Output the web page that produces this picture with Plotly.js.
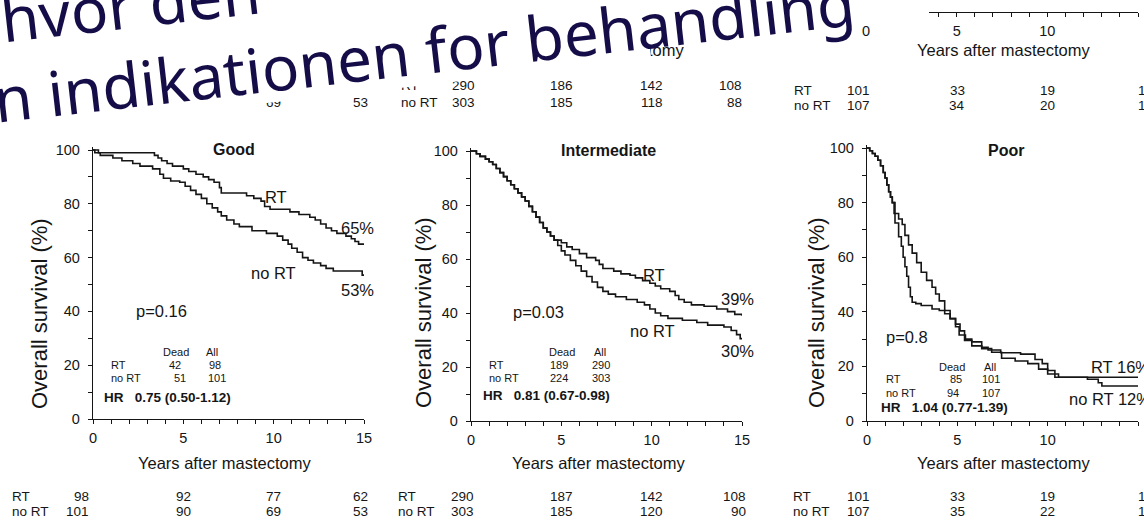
<!DOCTYPE html>
<html><head><meta charset="utf-8">
<script src="https://cdn.plot.ly/plotly-3.0.1.min.js"></script>
<style>html,body{margin:0;padding:0;background:#fff;overflow:hidden}#chart{width:1144px;height:523px}</style>
</head><body><div id="chart"></div>
<script>
// ---------------- data (years after mastectomy, overall survival %) ----------------
const riskYears = [0, 5, 10, 15];

const goodRT_t = [0,0.3,3.4,3.6,3.8,4.1,4.4,5.0,5.3,5.7,6.1,6.4,6.7,7.0,7.1,8.5,8.9,9.3,9.5,9.8,10.9,11.4,12.0,12.3,12.6,12.9,13.2,13.5,14.0,14.3,14.5,14.7,15];
const goodRT_s = [100,99,98,97,96,95,94,93,92,91,90,89,88,86,84,83,82,81,79,78,77,76,75,74,72.5,71,70,69,68,67,66,65,65];
const goodNo_t = [0,0.1,0.4,1.1,1.6,2.2,2.6,3.3,3.7,3.9,4.3,4.8,5.1,5.4,5.7,6.0,6.3,6.6,6.9,7.1,7.4,7.8,8.1,8.8,9.6,10.2,10.5,10.8,11.0,11.3,11.6,11.9,12.2,12.6,12.9,13.3,14.9,15];
const goodNo_s = [100,99,98,97,96,95,94,93,91,89.5,88.5,88,86.5,85,83.5,82,80,78.5,77,75.5,74,72.5,71.5,70,69,68,66.5,65,63.5,62,60,59,58,57,56,55,53.5,53.5];

const interCommon_t = [0,0.3,0.5,0.8,1.0,1.2,1.4,1.6,1.8,2.0,2.2,2.4,2.6,2.8,3.0,3.2,3.4,3.6,3.8,4.0,4.2,4.4,4.6];
const interCommon_s = [100,99,98,97,96,95,93.5,92,90.5,89,87.5,86,84.5,83,81.5,79.5,77.5,75.5,73.5,71.5,70,68.5,67];
const interRT_t = [5.0,5.3,5.6,6.0,6.4,6.9,7.1,7.3,7.9,8.3,8.8,9.1,9.5,9.9,10.2,10.5,11.0,11.3,11.5,11.8,12.2,12.9,13.6,14.2,14.6,15];
const interRT_s = [66,64.5,63.5,62,60.5,59.5,58,56.5,55.5,54.5,54,53,52,51,50,49,48,46.5,45,44,43,42.5,41.5,40.5,39.5,39];
const interNo_t = [4.8,5.0,5.2,5.5,5.8,6.1,6.4,6.7,7.0,7.3,7.6,8.0,8.6,9.2,9.6,9.9,10.2,10.5,10.9,11.7,12.5,13.1,14.0,14.4,14.7,14.9,15];
const interNo_s = [65,63,61.5,59.5,57.5,55.5,53.5,51.5,49.5,48,47,46,45,44,43,41.5,40,39,38,37.3,36.5,35.5,34.8,33.5,32,30.5,30.2];

const poorCommon_t = [0,0.15,0.3,0.45,0.6,0.75,0.9,1.0,1.1,1.2,1.3,1.4];
const poorCommon_s = [100,99,98,97,95.5,93.5,91,89,86.5,84,82,80];
const poorRT_t = [1.5,1.75,1.95,2.1,2.3,2.5,2.75,3.0,3.3,3.6,3.8,4.0,4.3,4.6,4.9,5.1,5.45,5.8,6.35,6.7,7.4,8.5,9.3,9.7,10.0,10.4,15];
const poorRT_s = [76,74,72,68,64.5,61.5,58,54.5,51.5,49,46.5,44,40.5,37.5,34.5,31.5,30,29,27,26,25,24.5,22.5,21,18.5,16,16];
const poorNo_t = [1.55,1.75,1.9,2.0,2.1,2.2,2.3,2.4,2.5,2.7,3.0,3.6,4.0,4.3,4.6,4.9,5.15,5.4,5.8,6.35,6.9,7.45,8.2,8.9,9.5,10.0,10.6,12.2,12.8,13.0,15];
const poorNo_s = [72.5,67.5,64,60,56.5,53,49,45.5,43.5,43,42.3,41,40.5,39.3,37.5,35.5,33,29.5,27.5,26.5,25.2,23,22,21,19,17.2,16,15.3,14,12.8,12.5];

// numbers at risk
const goodRiskRT = ['98','92','77','62'];
const goodRiskNo = ['101','90','69','53'];
const interRiskRT = ['290','187','142','108'];
const interRiskNo = ['303','185','120','90'];
const poorRiskRT = ['101','33','19','1'];
const poorRiskNo = ['107','35','22','1'];
// partly visible tables of the figure above
const topMidRT = ['290','186','142','108'];
const topMidNo = ['303','185','118','88'];
const topRightRT = ['101','33','19','1'];
const topRightNo = ['107','34','20','1'];
const topLeftRT = ['62'];
const topLeftNo = ['69','53'];

// texts
const panelTitles = ['Good','Intermediate','Poor'];
const pValues = ['p=0.16','p=0.03','p=0.8'];
const deadRT = ['42','189','85'], allRT = ['98','290','101'];
const deadNo = ['51','224','94'], allNo = ['101','303','107'];
const hrText = ['0.75 (0.50-1.12)','0.81 (0.67-0.98)','1.04 (0.77-1.39)'];
const slideLine1 = 'hvor den';
const slideLine2 = 'n indikationen for behandling';

// ---------------- layout helpers ----------------
const W = 1144, H = 523;
const px = x => x / W, py = y => 1 - y / H;
const F = 'Liberation Sans, Arial, Helvetica, sans-serif';
const INK = '#151515';

const P = [
  {x0: 93, x15: 364, y0: 419, y100: 150},
  {x0: 471, x15: 742, y0: 421, y100: 151},
  {x0: 867, x15: 1138, y0: 421, y100: 148}
];

function xAx(p, anchor) {
  return {domain: [px(p.x0), px(p.x15)], range: [0, 15], anchor: anchor,
    showline: true, linecolor: INK, linewidth: 1.2, ticks: 'outside', ticklen: 4, tickwidth: 1, tickcolor: INK,
    tick0: 0, dtick: 5, minor: {dtick: 1, ticks: 'outside', ticklen: 4, tickwidth: 1, tickcolor: INK},
    showgrid: false, zeroline: false, fixedrange: true, ticklabelstandoff: 1,
    tickfont: {family: F, size: 14.5, color: INK}};
}
function yAx(p, anchor) {
  const top = p.y100 - 0.01 * (p.y0 - p.y100);
  return {domain: [py(p.y0), py(top)], range: [0, 101], anchor: anchor,
    showline: true, linecolor: INK, linewidth: 1.2, ticks: 'outside', ticklen: 4, tickwidth: 1, tickcolor: INK,
    tick0: 0, dtick: 20, minor: {dtick: 10, ticks: 'outside', ticklen: 4, tickwidth: 1, tickcolor: INK},
    showgrid: false, zeroline: false, fixedrange: true, ticklabelstandoff: 5,
    tickfont: {family: F, size: 14.5, color: INK}};
}

const traces = [];
function km(t, s, i) {
  traces.push({type: 'scatter', mode: 'lines', x: t, y: s,
    xaxis: i ? 'x' + (i + 1) : 'x', yaxis: i ? 'y' + (i + 1) : 'y',
    line: {shape: 'hv', color: INK, width: 1.6}, hoverinfo: 'skip', showlegend: false});
}
km(goodRT_t, goodRT_s, 0);
km(goodNo_t, goodNo_s, 0);
km(interCommon_t.concat(interRT_t), interCommon_s.concat(interRT_s), 1);
km(interCommon_t.concat(interNo_t), interCommon_s.concat(interNo_s), 1);
km(poorCommon_t.concat(poorRT_t), poorCommon_s.concat(poorRT_s), 2);
km(poorCommon_t.concat(poorNo_t), poorCommon_s.concat(poorNo_s), 2);
traces.push({type: 'scatter', x: [], y: [], xaxis: 'x4', yaxis: 'y4', showlegend: false, hoverinfo: 'skip'});

const ann = [];
function T(text, xpx, ypx, o) {
  o = o || {};
  ann.push({text: text, x: px(xpx), y: py(ypx), xref: 'paper', yref: 'paper', showarrow: false,
    xanchor: o.xa || 'center', yanchor: 'middle', textangle: o.angle || 0,
    font: {family: o.family || F, size: o.size || 16.5, color: o.color || INK}});
}
// numbers at risk placed on the library's x scale
function riskRow(vals, yrs, xref, ypx, shifts) {
  vals.forEach((v, k) => {
    const yr = yrs[k];
    let xa = 'center', sh = 0;
    if (yr === 0) { xa = 'right'; sh = shifts[0]; }
    else if (yr === 15) { xa = shifts[2] === 'left' ? 'left' : 'right'; sh = shifts[1]; }
    ann.push({text: v, x: yr, xref: xref, y: py(ypx), yref: 'paper', showarrow: false,
      xanchor: xa, yanchor: 'middle', xshift: sh, font: {family: F, size: 13.5, color: INK}});
  });
}

// panel titles and curve labels
T('<b>' + panelTitles[0] + '</b>', 234, 149, {size: 16});
T('<b>' + panelTitles[1] + '</b>', 608, 150, {size: 16});
T('<b>' + panelTitles[2] + '</b>', 1006, 150, {size: 16});
T('RT', 276, 197); T('65%', 357, 228); T('no RT', 273, 273); T('53%', 357, 290);
T('RT', 654, 275); T('39%', 737, 299); T('no RT', 652, 331); T('30%', 737, 351);
T('RT 16%', 1089, 367, {xa: 'left'}); T('no RT 12%', 1067, 399, {xa: 'left'});
T(pValues[0], 161, 311); T(pValues[1], 538, 312); T(pValues[2], 907, 337);

// small tables
const tb = [
  {dead: 176, all: 212, lab: 109, hdr: 352, r1: 365, r2: 378, hr: 397, hrx: 102, d1: 175, d2: 180, a1: 215, a2: 217},
  {dead: 562, all: 600, lab: 487, hdr: 352, r1: 365, r2: 378, hr: 395, hrx: 481, d1: 559, d2: 559, a1: 601, a2: 601},
  {dead: 952, all: 990, lab: 884, hdr: 367, r1: 379, r2: 393, hr: 407, hrx: 879, d1: 956, d2: 953, a1: 991, a2: 991}
];
tb.forEach((t, i) => {
  T('Dead', t.dead, t.hdr, {size: 11}); T('All', t.all, t.hdr, {size: 11});
  T('RT', t.lab, t.r1, {size: 11, xa: 'left'}); T(deadRT[i], t.d1, t.r1, {size: 11}); T(allRT[i], t.a1, t.r1, {size: 11});
  T('no RT', t.lab, t.r2, {size: 11, xa: 'left'}); T(deadNo[i], t.d2, t.r2, {size: 11}); T(allNo[i], t.a2, t.r2, {size: 11});
  T('<b>HR\u00a0\u00a0\u00a0' + hrText[i] + '</b>', t.hrx, t.hr, {size: 13.5, xa: 'left'});
});

// axis titles
[[39, 314], [423, 313], [816, 313]].forEach(c => T('Overall survival (%)', c[0], c[1], {size: 22, angle: -90}));
[224, 598, 1003].forEach(cx => T('Years after mastectomy', cx, 463, {size: 16.5}));
T('Years after mastectomy', 1003, 50, {size: 16.5});

// numbers at risk (bottom)
T('RT', 10, 496, {size: 13.5, xa: 'left'}); T('no RT', 10, 511, {size: 13.5, xa: 'left'});
riskRow(goodRiskRT, riskYears, 'x', 496, [-2, 6]);
riskRow(goodRiskNo, riskYears, 'x', 511, [-2, 6]);
T('RT', 396, 496, {size: 13.5, xa: 'left'}); T('no RT', 396, 511, {size: 13.5, xa: 'left'});
riskRow(interRiskRT, riskYears, 'x2', 496, [5, 6]);
riskRow(interRiskNo, riskYears, 'x2', 511, [5, 6]);
T('RT', 791, 496, {size: 13.5, xa: 'left'}); T('no RT', 791, 511, {size: 13.5, xa: 'left'});
riskRow(poorRiskRT, riskYears, 'x3', 496, [5, -2, 'left']);
riskRow(poorRiskNo, riskYears, 'x3', 511, [5, -2, 'left']);

// partly visible rows of the figure above
T('RT', 399, 85, {size: 13.5, xa: 'left'}); T('no RT', 399, 102, {size: 13.5, xa: 'left'});
riskRow(topMidRT, riskYears, 'x2', 85, [6, 2]);
riskRow(topMidNo, riskYears, 'x2', 102, [6, 2]);
riskRow(topLeftRT, [15], 'x', 86, [0, 6]);
riskRow(topLeftNo, [10, 15], 'x', 102, [0, 6]);
T('RT', 792, 90, {size: 13.5, xa: 'left'}); T('no RT', 792, 105, {size: 13.5, xa: 'left'});
riskRow(topRightRT, riskYears, 'x3', 90, [5, -2, 'left']);
riskRow(topRightNo, riskYears, 'x3', 105, [5, -2, 'left']);
T('Years after mastectomy', 597, 50, {size: 16.5});

// white slide text box covering the upper figure
ann.push({text: '\u00a0', x: px(81), y: py(-78.5), xref: 'paper', yref: 'paper', showarrow: false,
  xanchor: 'center', yanchor: 'middle', width: 1100, height: 400, bgcolor: '#ffffff', borderwidth: 0,
  textangle: -6.5, font: {family: F, size: 10, color: '#ffffff'}});

// slide heading text (rotated)
const SF = 'Noto Sans, DejaVu Sans, sans-serif';
T(slideLine1, 130, 4, {family: SF, size: 62, color: '#150d47', angle: -6.5});
T(slideLine2, 424, 50, {family: SF, size: 62, color: '#150d47', angle: -6.5});

const layout = {
  width: W, height: H, margin: {l: 0, r: 0, t: 0, b: 0},
  paper_bgcolor: '#ffffff', plot_bgcolor: '#ffffff', showlegend: false,
  xaxis: xAx(P[0], 'y'), yaxis: yAx(P[0], 'x'),
  xaxis2: xAx(P[1], 'y2'), yaxis2: yAx(P[1], 'x2'),
  xaxis3: xAx(P[2], 'y3'), yaxis3: yAx(P[2], 'x3'),
  xaxis4: xAx({x0: 866, x15: 1138}, 'y4'),
  yaxis4: {domain: [py(12), 1], range: [0, 1], anchor: 'x4', visible: false, fixedrange: true},
  annotations: ann,
  shapes: [
    {type: 'rect', xref: 'paper', yref: 'paper', x0: px(848), x1: px(929), y0: py(22), y1: py(0),
     fillcolor: '#ffffff', line: {width: 0}, layer: 'above'}
  ]
};

Plotly.newPlot('chart', traces, layout, {staticPlot: true, displayModeBar: false});
</script>
</body></html>
